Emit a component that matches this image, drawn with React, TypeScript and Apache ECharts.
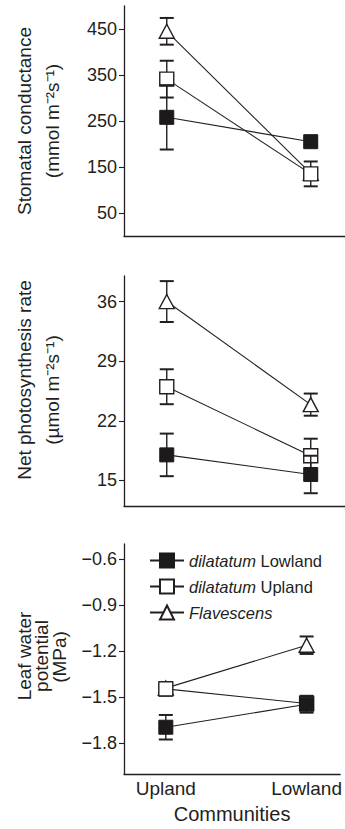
import React, { useEffect, useRef } from "react";
import * as echarts from "echarts";

// ---------- data ----------
const communities = ["Upland", "Lowland"];
const seriesNames = ["dilatatum Lowland", "dilatatum Upland", "Flavescens"];

// Stomatal conductance (mmol m-2 s-1)
const gsDilLow = [258, 205];
const gsDilLowErr = [70, 8];
const gsDilUp = [341, 135];
const gsDilUpErr = [40, 27];
const gsFlav = [445, 136];
const gsFlavErr = [29, 8];

// Net photosynthesis rate (umol m-2 s-1)
const anDilLow = [18.0, 15.7];
const anDilLowErr = [2.5, 2.2];
const anDilUp = [26.0, 17.9];
const anDilUpErr = [2.05, 2.0];
const anFlav = [36.0, 23.9];
const anFlavErr = [2.4, 1.3];

// Leaf water potential (MPa)
const lwDilLow = [-1.695, -1.545];
const lwDilLowErr = [0.08, 0.055];
const lwDilUp = [-1.445, -1.54];
const lwDilUpErr = [0.045, 0.03];
const lwFlav = [-1.44, -1.16];
const lwFlavErr = [0.03, 0.057];

// tick labels
const gsTicks = [50, 150, 250, 350, 450];
const anTicks = [15, 22, 29, 36];
const lwTicks = [-1.8, -1.5, -1.2, -0.9, -0.6];

const FONT = "Liberation Sans, Arial, Helvetica, sans-serif";
const INK = "#231f20";

export default function App() {
  const ref = useRef<HTMLDivElement>(null);

  useEffect(() => {
    if (!ref.current) return;
    const chart = echarts.init(ref.current, undefined, { renderer: "svg" });

    const panels = [
      { vals: [gsDilLow, gsDilUp, gsFlav], errs: [gsDilLowErr, gsDilUpErr, gsFlavErr] },
      { vals: [anDilLow, anDilUp, anFlav], errs: [anDilLowErr, anDilUpErr, anFlavErr] },
      { vals: [lwDilLow, lwDilUp, lwFlav], errs: [lwDilLowErr, lwDilUpErr, lwFlavErr] },
    ];

    const symbols: any[] = [
      { symbol: "rect", symbolSize: 14, itemStyle: { color: "#1c1a1b", borderColor: "#1c1a1b", borderWidth: 1 } },
      { symbol: "rect", symbolSize: 14, itemStyle: { color: "#fff", borderColor: INK, borderWidth: 1.4 } },
      { symbol: "triangle", symbolSize: [15, 14], itemStyle: { color: "#fff", borderColor: INK, borderWidth: 1.4 } },
    ];
    // z order: Flavescens bottom, dilatatum Upland, dilatatum Lowland top
    const zBase = [6, 4, 2];

    const errRender = (params: any, api: any) => {
      const x = api.value(0);
      const y = api.value(1);
      const e = api.value(2);
      const top = api.coord([x, y + e]);
      const bot = api.coord([x, y - e]);
      const hw = 7;
      const st = { stroke: INK, lineWidth: 1.4 };
      return {
        type: "group",
        children: [
          { type: "line", shape: { x1: top[0], y1: top[1], x2: bot[0], y2: bot[1] }, style: st },
          { type: "line", shape: { x1: top[0] - hw, y1: top[1], x2: top[0] + hw, y2: top[1] }, style: { stroke: INK, lineWidth: 2 } },
          { type: "line", shape: { x1: bot[0] - hw, y1: bot[1], x2: bot[0] + hw, y2: bot[1] }, style: { stroke: INK, lineWidth: 2 } },
        ],
      };
    };

    const series: any[] = [];
    panels.forEach((p, pi) => {
      for (let k = 2; k >= 0; k--) {
        series.push({
          type: "custom",
          xAxisIndex: pi,
          yAxisIndex: pi,
          z: zBase[k],
          clip: false,
          renderItem: errRender,
          data: communities.map((_, i) => [i, p.vals[k][i], p.errs[k][i]]),
          silent: true,
        });
        series.push({
          type: "line",
          name: seriesNames[k],
          xAxisIndex: pi,
          yAxisIndex: pi,
          z: zBase[k] + 1,
          data: communities.map((_, i) => [i, p.vals[k][i]]),
          lineStyle: { color: INK, width: 1.1 },
          ...symbols[k],
          showSymbol: true,
        });
      }
    });

    const tickLabel = { fontFamily: FONT, fontSize: 18, color: INK, margin: 7 };
    const yBase = {
      type: "value",
      splitLine: { show: false },
      axisLine: { show: true, onZero: false, lineStyle: { color: INK, width: 1.3 } },
      axisTick: { show: true, length: 5, lineStyle: { color: INK, width: 1.1 } },
    };
    const xBase = {
      type: "value",
      min: -0.297,
      max: 1.238,
      splitLine: { show: false },
      axisLine: { show: true, onZero: false, lineStyle: { color: INK, width: 1.3 } },
      axisTick: { show: false },
    };

    const fmtMinus = (v: number) => (v < 0 ? "\u2212" + Math.abs(v).toFixed(1) : v.toFixed(1));

    const titleStyle = (text: string) => ({
      text,
      fontFamily: FONT,
      fontSize: 19,
      fill: INK,
      align: "center",
      verticalAlign: "middle",
    });

    const option: any = {
      animation: false,
      backgroundColor: "#fff",
      grid: [
        { left: 124, right: 0, top: 6, height: 230 },
        { left: 124, right: 0, top: 276, height: 230 },
        { left: 124, right: 0, top: 544, height: 230 },
      ],
      xAxis: [
        { ...xBase, gridIndex: 0, axisLabel: { show: false } },
        { ...xBase, gridIndex: 1, axisLabel: { show: false } },
        {
          ...xBase,
          gridIndex: 2,
          axisLabel: {
            show: true,
            customValues: [0, 1],
            formatter: (v: number) => communities[Math.round(v)],
            fontFamily: FONT,
            fontSize: 19,
            color: INK,
            margin: 5,
          },
          name: "Communities",
          nameLocation: "middle",
          nameGap: 30,
          nameTextStyle: { fontFamily: FONT, fontSize: 20, color: INK },
        },
      ],
      yAxis: [
        {
          ...yBase,
          gridIndex: 0,
          min: 0,
          max: 500,
          axisTick: { ...yBase.axisTick, customValues: gsTicks },
          axisLabel: { ...tickLabel, customValues: gsTicks, formatter: (v: number) => String(v) },
        },
        {
          ...yBase,
          gridIndex: 1,
          min: 12,
          max: 39,
          axisTick: { ...yBase.axisTick, customValues: anTicks },
          axisLabel: { ...tickLabel, customValues: anTicks, formatter: (v: number) => String(v) },
        },
        {
          ...yBase,
          gridIndex: 2,
          min: -2.0,
          max: -0.5,
          axisTick: { ...yBase.axisTick, customValues: lwTicks },
          axisLabel: { ...tickLabel, customValues: lwTicks, formatter: fmtMinus },
        },
      ],
      legend: {
        data: seriesNames,
        orient: "vertical",
        left: 149,
        top: 552,
        padding: 0,
        itemWidth: 34,
        itemHeight: 17.5,
        itemGap: 9,
        selectedMode: false,
        formatter: (name: string) =>
          name.startsWith("dilatatum")
            ? "{i|dilatatum}{n| " + name.replace("dilatatum ", "") + "}"
            : "{i|" + name + "}",
        textStyle: {
          fontFamily: FONT,
          fontSize: 16.5,
          color: INK,
          rich: {
            i: { fontFamily: FONT, fontSize: 16.5, fontStyle: "italic", color: INK },
            n: { fontFamily: FONT, fontSize: 16.5, color: INK },
          },
        },
      },
      graphic: [
        { type: "text", x: 24, y: 121, rotation: Math.PI / 2, style: titleStyle("Stomatal conductance") },
        { type: "text", x: 52, y: 121, rotation: Math.PI / 2, style: titleStyle("(mmol m\u207B\u00B2s\u207B\u00B9)") },
        { type: "text", x: 24, y: 380, rotation: Math.PI / 2, style: titleStyle("Net photosynthesis rate") },
        { type: "text", x: 52, y: 390, rotation: Math.PI / 2, style: titleStyle("(\u00B5mol m\u207B\u00B2s\u207B\u00B9)") },
        { type: "text", x: 24, y: 656, rotation: Math.PI / 2, style: titleStyle("Leaf water") },
        { type: "text", x: 41.5, y: 656, rotation: Math.PI / 2, style: titleStyle("potential") },
        { type: "text", x: 59, y: 657, rotation: Math.PI / 2, style: titleStyle("(MPa)") },
      ],
      series,
    };

    chart.setOption(option);
    return () => chart.dispose();
  }, []);

  return (
    <div
      ref={ref}
      style={{ position: "fixed", left: 0, top: 0, width: 345, height: 829, background: "#fff" }}
    />
  );
}
